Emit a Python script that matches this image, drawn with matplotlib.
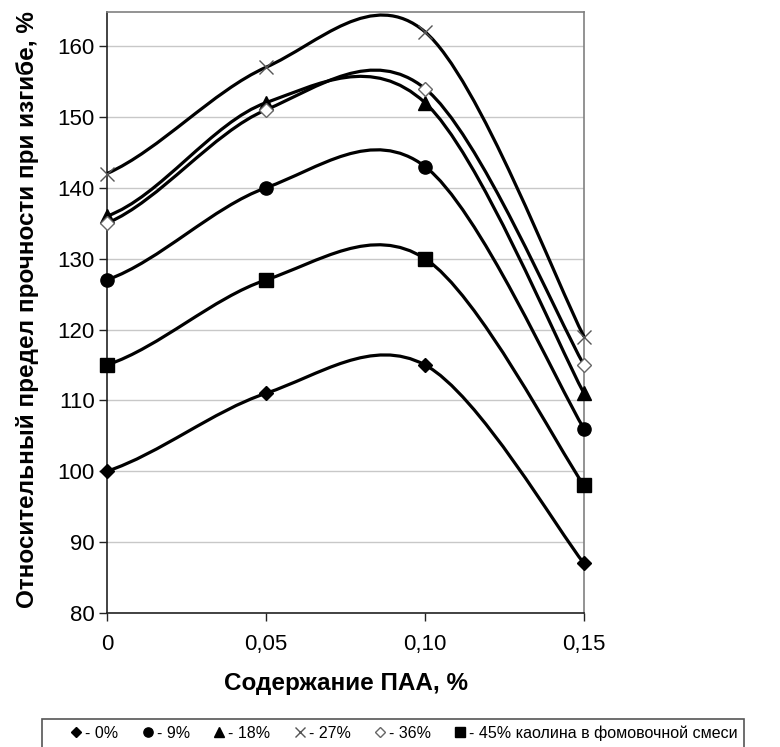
import matplotlib
matplotlib.use('Agg')
import matplotlib.pyplot as plt
from matplotlib.path import Path
from matplotlib.patches import PathPatch, Rectangle
from matplotlib.lines import Line2D

plt.rcParams['font.family'] = ['Liberation Sans', 'DejaVu Sans']

# данные
paa = [0, 0.05, 0.10, 0.15]
kaolin_0 = [100, 111, 115, 87]
kaolin_9 = [127, 140, 143, 106]
kaolin_18 = [136, 152, 152, 111]
kaolin_27 = [142, 157, 162, 119]
kaolin_36 = [135, 151, 154, 115]
kaolin_45 = [115, 127, 130, 98]
x_labels = ['0', '0,05', '0,10', '0,15']
legend_labels = ['- 0%', '- 9%', '- 18%', '- 27%', '- 36%', '- 45% каолина в фомовочной смеси']

series = [kaolin_0, kaolin_9, kaolin_18, kaolin_27, kaolin_36, kaolin_45]
markers = [
    dict(marker='D', ms=7.5, mfc='black', mec='black'),
    dict(marker='o', ms=9.5, mfc='black', mec='black'),
    dict(marker='^', ms=10, mfc='black', mec='black'),
    dict(marker='x', ms=10, mfc='none', mec='#555555', mew=1.0),
    dict(marker='D', ms=7.5, mfc='white', mec='#666666', mew=1.0),
    dict(marker='s', ms=10, mfc='black', mec='black'),
]


# сглаженная линия как в Excel (кубические Безье)
def smooth_path(xs, ys):
    pts = list(zip(xs, ys))
    n = len(pts)
    verts = [pts[0]]
    codes = [Path.MOVETO]
    for i in range(n - 1):
        p1 = pts[i]
        p2 = pts[i + 1]
        if i > 0:
            p0 = pts[i - 1]
        else:
            # начало: касательная как в следующей точке
            p0 = (p1[0] - (pts[2][0] - p2[0]), p1[1] - (pts[2][1] - p2[1]))
        p3 = pts[i + 2] if i + 2 < n else pts[i + 1]
        c1 = (p1[0] + (p2[0] - p0[0]) / 6, p1[1] + (p2[1] - p0[1]) / 6)
        c2 = (p2[0] - (p3[0] - p1[0]) / 6, p2[1] - (p3[1] - p1[1]) / 6)
        verts += [c1, c2, p2]
        codes += [Path.CURVE4] * 3
    return Path(verts, codes)


fig = plt.figure(figsize=(7.8, 7.47), dpi=100)
ax = fig.add_axes([107 / 780, 1 - 613 / 747, 477 / 780, 601 / 747])

for ys in series:
    ax.add_patch(PathPatch(smooth_path(paa, ys), fill=False, ec='black', lw=2.3,
                           zorder=3, clip_on=False))
for ys, mk in zip(series, markers):
    ax.plot(paa, ys, ls='none', zorder=4, clip_on=False, **mk)

ax.set_xlim(0, 0.15)
ax.set_ylim(80, 164.8)
ax.set_yticks(range(80, 161, 10))
ax.set_xticks(paa)
ax.set_xticklabels(x_labels)
ax.yaxis.grid(True, color='#c8c8c8', lw=1)
ax.set_axisbelow(True)

ax.spines['top'].set_color('#808080')
ax.spines['right'].set_color('#808080')
ax.spines['left'].set_color('#222222')
ax.spines['bottom'].set_color('#222222')
for s in ax.spines.values():
    s.set_linewidth(1.2)
ax.tick_params(axis='both', direction='out', length=6, width=1, color='#222222',
               labelsize=16, pad=3)
ax.tick_params(axis='x', pad=9)

ax.set_ylabel('Относительный предел прочности при изгибе, %', fontsize=17.5, fontweight='bold')
ax.yaxis.set_label_coords(-0.143, 0.505)
ax.set_xlabel('Содержание ПАА, %', fontsize=17.5, fontweight='bold')
ax.xaxis.set_label_coords(0.5, -0.098)

# легенда
handles = []
for mk in markers:
    m = dict(mk)
    m['ms'] = m['ms'] * 0.7
    handles.append(Line2D([], [], ls='none', **m))
leg = fig.legend(handles, legend_labels, loc='center left',
                 bbox_to_anchor=(70 / 780, 1 - 733 / 747),
                 ncol=6, frameon=False, prop={'size': 11.5},
                 handlelength=0.8, handletextpad=0.15, borderpad=0,
                 borderaxespad=0, columnspacing=1.45)
fig.add_artist(Rectangle((42 / 780, -0.02), 702 / 780, 0.02 + 28 / 747,
                         transform=fig.transFigure, fill=False,
                         ec='#555555', lw=1.2))

fig.savefig('out.png', dpi=100)
